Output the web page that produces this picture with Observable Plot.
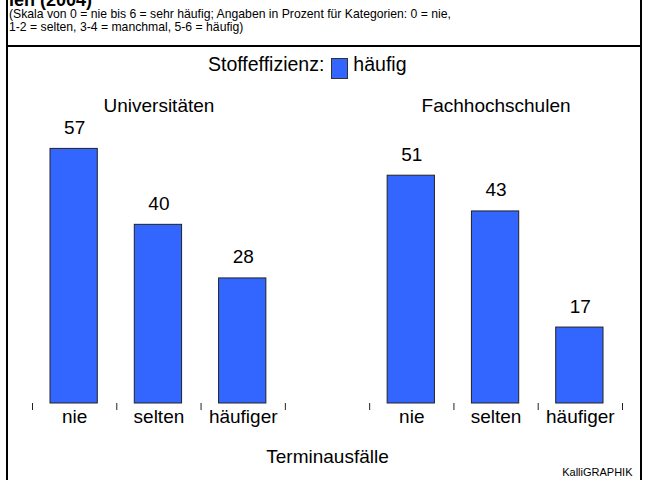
<!DOCTYPE html>
<html><head><meta charset="utf-8">
<script src="https://cdn.jsdelivr.net/npm/d3@7"></script>
<script src="https://cdn.jsdelivr.net/npm/@observablehq/plot@0.6"></script>
<style>
body{margin:0;background:#fff;}
#wrap{position:relative;width:645px;height:480px;overflow:hidden;font-family:"Liberation Sans",Arial,sans-serif;color:#000;}
#frame{position:absolute;left:6px;top:0;width:632px;height:480px;border-left:2px solid #000;border-right:2px solid #000;}
#rule{position:absolute;left:6px;top:45px;width:636px;height:0;border-top:2px solid #000;}
#title{position:absolute;left:9px;top:-10px;font-weight:bold;font-size:18px;line-height:20px;white-space:nowrap;}
#sub{position:absolute;left:9px;top:7px;font-family:"Liberation Sans",Arial,sans-serif;font-size:13px;line-height:13px;white-space:nowrap;transform-origin:0 0;}
#sub span{display:inline-block;}
#legend{position:absolute;left:208px;top:53px;font-size:19.5px;line-height:22px;display:flex;align-items:flex-start;white-space:nowrap;}
#legend .sw{display:inline-block;box-sizing:border-box;width:17px;height:21px;background:#3366ff;border:1px solid #333;margin:5px 5px 0 7px;}
#chart{position:absolute;left:0;top:47px;}
</style></head>
<body>
<div id="wrap">
  <div id="frame"></div>
  <div id="rule"></div>
  <div id="title"></div>
  <div id="sub"></div>
  <div id="legend"></div>
  <div id="chart"></div>
</div>
<script>
const titleTail = "len (2004)";
const subtitleLines = [
  "(Skala von 0 = nie bis 6 = sehr häufig; Angaben in Prozent für Kategorien: 0 = nie,",
  "1-2 = selten, 3-4 = manchmal, 5-6 = häufig)"
];
const legendLabel = "Stoffeffizienz:";
const seriesName = "häufig";
const groups = ["Universitäten", "Fachhochschulen"];
const categories = ["nie", "selten", "häufiger"];
const uniValues = [57, 40, 28];
const fhValues = [51, 43, 17];
const xTitle = "Terminausfälle";
const credit = "KalliGRAPHIK";
const barColor = "#3366ff";

document.getElementById("title").textContent = titleTail;
const sub = document.getElementById("sub");
subtitleLines.forEach((s, i) => {
  const sp = document.createElement("span");
  sp.textContent = s;
  sub.append(sp);
  if (i < subtitleLines.length - 1) sub.append(document.createElement("br"));
});
// condense the subtitle to the narrow width seen in the reference
const firstW = sub.querySelector("span").getBoundingClientRect().width;
if (firstW > 0) sub.style.transform = `scaleX(${442 / firstW})`;

const lg = document.getElementById("legend");
const s1 = document.createElement("span"); s1.textContent = legendLabel;
const sw = document.createElement("span"); sw.className = "sw";
const s2 = document.createElement("span"); s2.textContent = seriesName;
lg.append(s1, sw, s2);

const seriesByGroup = [uniValues, fhValues];
const slotsPerGroup = categories.length + 1;
const rows = [];
groups.forEach((g, gi) => {
  seriesByGroup[gi].forEach((v, ci) => {
    rows.push({group: g, category: categories[ci], value: v, slot: gi * slotsPerGroup + ci});
  });
});
const nSlots = groups.length * slotsPerGroup - 1;
const groupRows = groups.map((g, gi) => ({group: g, center: gi * slotsPerGroup + categories.length / 2}));

const plot = Plot.plot({
  width: 645,
  height: 433,
  marginLeft: 32,
  marginRight: 23,
  marginTop: 88,
  marginBottom: 77,
  x: {type: "linear", domain: [0, nSlots], axis: null},
  y: {domain: [0, 60], axis: null},
  style: {fontFamily: "'Liberation Sans', Arial, sans-serif", fontSize: "19px", background: "transparent", overflow: "visible", color: "#000"},
  marks: [
    Plot.rectY(rows, {x1: "slot", x2: d => d.slot + 1, y: "value", fill: barColor, stroke: "#222", strokeWidth: 1, insetLeft: 18, insetRight: 19}),
    Plot.text(rows, {x: d => d.slot + 0.5, y: "value", text: d => String(d.value), lineAnchor: "bottom", dy: -15, fontSize: 19, fill: "#000"}),
    Plot.axisX(d3.range(nSlots + 1), {tickSize: 7, tickFormat: () => "", stroke: "#222", strokeOpacity: 1, label: null}),
    Plot.text(rows, {x: d => d.slot + 0.5, text: "category", frameAnchor: "bottom", lineAnchor: "top", dy: 6, fontSize: 19, fill: "#000"}),
    Plot.text(groupRows, {x: "center", text: "group", frameAnchor: "top", lineAnchor: "bottom", dy: -24, fontSize: 19, fill: "#000"}),
    Plot.text([xTitle], {text: d => d, frameAnchor: "bottom", lineAnchor: "bottom", dy: 59, fontSize: 19, fill: "#000"}),
    Plot.text([credit], {text: d => d, frameAnchor: "bottom-right", textAnchor: "end", lineAnchor: "bottom", dx: 10, dy: 72, fontSize: 11, fill: "#000"})
  ]
});
document.getElementById("chart").append(plot);
</script>
</body></html>
